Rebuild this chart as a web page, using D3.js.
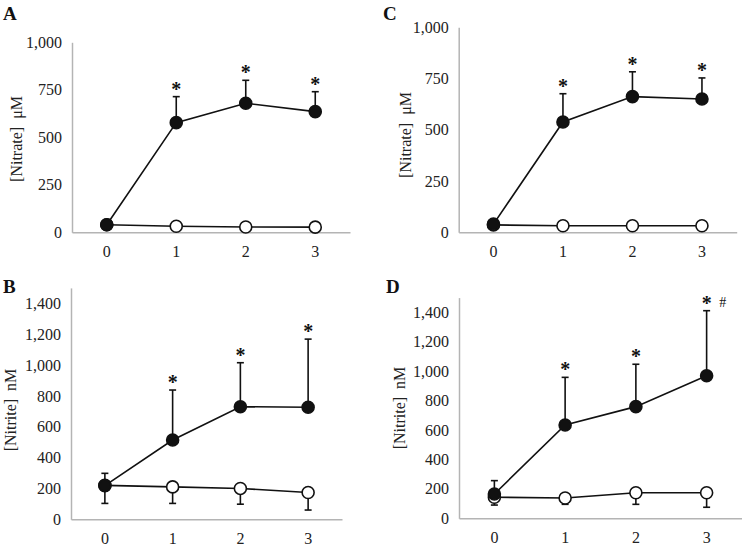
<!DOCTYPE html>
<html><head><meta charset="utf-8">
<script src="https://cdn.jsdelivr.net/npm/d3@7/dist/d3.min.js"></script>
<style>
body{margin:0;background:#fff;}
svg{display:block;}
svg text{font-family:"Liberation Serif","Times New Roman",serif !important;}
</style></head>
<body><svg id="chart" width="742" height="548"></svg>
<script>
// ---- data ----
const categories = ["0", "1", "2", "3"];

const nitrateTicks = [0, 250, 500, 750, 1000];
const nitriteTicks = [0, 200, 400, 600, 800, 1000, 1200, 1400];

// Panel A: nitrate (µM)
const aFilledMean = [40, 577, 679, 635];
const aFilledSD   = [0, 137, 121, 105];
const aOpenMean   = [40, 32, 28, 27];
const aOpenSD     = [0, 0, 0, 0];

// Panel C: nitrate (µM)
const cFilledMean = [40, 538, 662, 650];
const cFilledSD   = [0, 138, 121, 103];
const cOpenMean   = [36, 32, 32, 32];
const cOpenSD     = [0, 0, 0, 0];

// Panel B: nitrite (nM)
const bFilledMean = [218, 514, 730, 726];
const bFilledSD   = [80, 324, 285, 442];
const bOpenMean   = [220, 210, 200, 174];
const bOpenSD     = [117, 107, 102, 114];

// Panel D: nitrite (nM)
const dFilledMean = [165, 634, 759, 969];
const dFilledSD   = [91, 324, 288, 442];
const dOpenMean   = [143, 138, 174, 174];
const dOpenSD     = [53, 43, 79, 99];

const aMarks = ["", "*", "*", "*"];
const cMarks = ["", "*", "*", "*"];
const bMarks = ["", "*", "*", "*"];
const dMarks = ["", "*", "*", "* #"];

// ---- layout ----
const panels = [
  {letter:"A", lx:3, ly:20, left:72, right:350, top:42.3, bottom:232.3, max:1000, ticks:nitrateTicks,
   title:"[Nitrate]  \u03BCM", tx:16, ty:139,
   fm:aFilledMean, fs:aFilledSD, om:aOpenMean, os:aOpenSD, marks:aMarks},
  {letter:"C", lx:383, ly:20, left:458.7, right:736.7, top:27.3, bottom:232.3, max:1000, ticks:nitrateTicks,
   title:"[Nitrate]  \u03BCM", tx:405, ty:135,
   fm:cFilledMean, fs:cFilledSD, om:cOpenMean, os:cOpenSD, marks:cMarks},
  {letter:"B", lx:3, ly:293, left:71, right:342, top:287.9, bottom:519.3, max:1500, ticks:nitriteTicks,
   title:"[Nitrite]  nM", tx:10, ty:410,
   fm:bFilledMean, fs:bFilledSD, om:bOpenMean, os:bOpenSD, marks:bMarks},
  {letter:"D", lx:386, ly:293, left:459, right:742, top:297.6, bottom:518.3, max:1500, ticks:nitriteTicks,
   title:"[Nitrite]  nM", tx:399, ty:408,
   fm:dFilledMean, fs:dFilledSD, om:dOpenMean, os:dOpenSD, marks:dMarks}
];

const svg = d3.select("#chart");
const axisColor = "#b4b4b4";
const ink = "#111";
const r = 6, cap = 3.5;

panels.forEach(p => {
  const g = svg.append("g");
  const x = d3.scaleBand().domain(categories).range([p.left, p.right]).padding(0);
  const cx = c => x(c) + x.bandwidth() / 2;
  const y = d3.scaleLinear().domain([0, p.max]).range([p.bottom, p.top]);

  g.append("text").attr("x", p.lx).attr("y", p.ly)
    .attr("font-size", 19).attr("font-weight", "bold").attr("fill", ink).text(p.letter);

  const ya = g.append("g").attr("transform", `translate(${p.left},0)`)
    .call(d3.axisLeft(y).tickValues(p.ticks).tickFormat(d3.format(",")).tickSize(0).tickSizeOuter(0).tickPadding(10));
  ya.attr("font-family", null);
  ya.select(".domain").attr("stroke", axisColor).attr("stroke-width", 1.5);
  ya.selectAll("text").attr("font-size", 16).attr("fill", "#222");

  const xa = g.append("g").attr("transform", `translate(0,${p.bottom})`)
    .call(d3.axisBottom(x).tickSize(0).tickSizeOuter(0).tickPadding(13));
  xa.attr("font-family", null);
  xa.select(".domain").attr("stroke", axisColor).attr("stroke-width", 1.5);
  xa.selectAll("text").attr("font-size", 16).attr("fill", "#222");

  g.append("text").attr("transform", `translate(${p.tx},${p.ty}) rotate(-90)`)
    .attr("text-anchor", "middle").attr("dominant-baseline", "central")
    .attr("font-size", 16).attr("fill", "#222").style("white-space", "pre").text(p.title);

  const line = d3.line().x((d, i) => cx(categories[i])).y(d => y(d));

  function series(mean, sd, dir, filled) {
    g.append("path").datum(mean).attr("d", line)
      .attr("fill", "none").attr("stroke", ink).attr("stroke-width", 1.6);
    mean.forEach((m, i) => {
      if (!sd[i]) return;
      const xx = cx(categories[i]);
      const y2 = y(m + dir * sd[i]);
      g.append("line").attr("x1", xx).attr("x2", xx).attr("y1", y(m)).attr("y2", y2)
        .attr("stroke", ink).attr("stroke-width", 1.6);
      g.append("line").attr("x1", xx - cap).attr("x2", xx + cap).attr("y1", y2).attr("y2", y2)
        .attr("stroke", ink).attr("stroke-width", 1.6);
    });
    g.selectAll(null).data(mean).enter().append("circle")
      .attr("cx", (d, i) => cx(categories[i])).attr("cy", d => y(d)).attr("r", r)
      .attr("fill", filled ? ink : "#fff").attr("stroke", ink).attr("stroke-width", 1.6);
  }
  series(p.om, p.os, -1, false);
  series(p.fm, p.fs, 1, true);

  p.marks.forEach((mk, i) => {
    if (!mk) return;
    const top = y(p.fm[i] + p.fs[i]);
    const xx = cx(categories[i]);
    g.append("text").attr("x", xx).attr("y", top + 4).attr("text-anchor", "middle")
      .attr("font-size", 20).attr("fill", ink).attr("font-weight", "bold").text("*")
      .attr("dy", "-0.25em");
    if (mk === "* #") {
      g.append("text").attr("x", xx + 16).attr("y", top - 4).attr("text-anchor", "middle")
        .attr("font-size", 14).attr("fill", ink).text("#");
    }
  });
});
</script></body></html>
